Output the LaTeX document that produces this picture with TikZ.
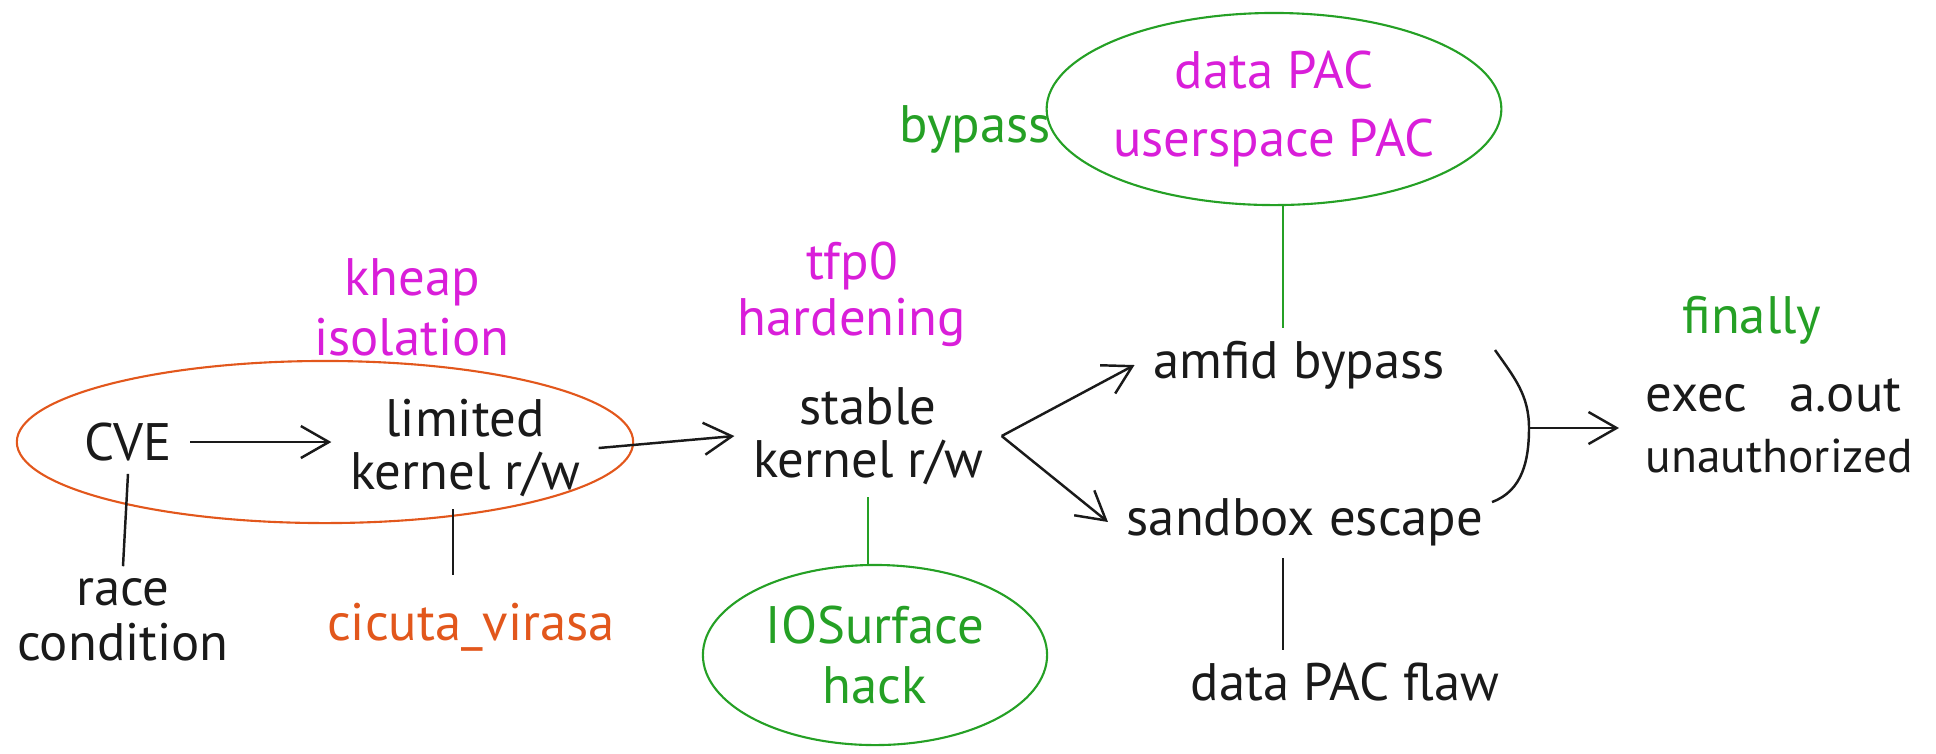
\documentclass[tikz,border=0pt]{standalone}
\usepackage{fontspec}
\setmainfont{PT Sans}
\usetikzlibrary{arrows.meta,shapes.geometric}
\definecolor{pen}{HTML}{1A1A1A}
\definecolor{mag}{HTML}{D91ED9}
\definecolor{grn}{HTML}{25A025}
\definecolor{org}{HTML}{E2571C}
\tikzset{
  lbl/.style={text=pen, inner xsep=0.18cm, inner ysep=0.12cm, align=center, font=\fontsize{15pt}{15pt}\selectfont},
  maglbl/.style={text=mag, inner sep=0.05cm, align=center},
  grnlbl/.style={text=grn, inner sep=0.05cm, align=center},
  blob/.style={ellipse, inner sep=0pt, line width=0.6pt, align=center},
  link/.style={draw=pen, line width=0.7pt},
  glink/.style={draw=grn, line width=0.7pt},
  arr/.style={draw=pen, line width=0.7pt, -{Straight Barb[length=0.28cm,width=0.32cm,line width=0.7pt]}},
}
\begin{document}
\begin{tikzpicture}[x=0.01cm,y=-0.01cm]
\useasboundingbox (0,0) rectangle (1936,753);
% group ellipse
\node[blob, draw=org, minimum width=6.16cm, minimum height=1.62cm] (grp) at (325,442) {};
% main nodes
\node[lbl] (cve) at (128,442) {CVE};
\node[lbl] (limited) at (465,448) {limited\\kernel r/w};
\node[lbl] (stable) at (868,436) {stable\\kernel r/w};
\node[lbl] (amfid) at (1299,365) {amfid bypass};
\node[lbl] (sandbox) at (1305,522) {sandbox escape};
\node[lbl, font=\fontsize{13.5pt}{17.5pt}\selectfont, align=left, anchor=west] (final) at (1627,426) {{\fontsize{15pt}{15pt}\selectfont exec\hspace{0.8em}a.out}\\unauthorized};
% annotations
\node[lbl, font=\fontsize{15pt}{15.5pt}\selectfont] (race) at (123,620) {race\\condition};
\node[lbl, text=org] (cicuta) at (471,627) {cicuta\_virasa};
\node[lbl] (flaw) at (1345,682) {data PAC flaw};
\node[maglbl, font=\fontsize{15pt}{17pt}\selectfont] (kheap) at (412,307) {kheap\\isolation};
\node[maglbl, font=\fontsize{15pt}{16pt}\selectfont] (tfp) at (852,294) {tfp0\\hardening};
\node[grnlbl, font=\fontsize{15pt}{15pt}\selectfont] (bypass) at (975,129) {bypass};
\node[grnlbl, font=\fontsize{15pt}{15pt}\selectfont] (finally) at (1752,320) {finally};
\node[blob, draw=grn, text=mag, minimum width=3.92cm, minimum height=1.92cm, font=\fontsize{15pt}{19.5pt}\selectfont] (dpac) at (1274,109) {data PAC\\userspace PAC};
\node[blob, draw=grn, text=grn, minimum width=3.44cm, minimum height=1.80cm, font=\fontsize{15pt}{17pt}\selectfont] (ios) at (875,655) {IOSurface\\hack};
% bracket
\coordinate (brtop) at (1495,350);
\coordinate (brmid) at (1529,428);
\coordinate (brbot) at (1492,502);
% connectors
\draw[arr] (cve) -- (limited.west |- cve);
\draw[arr] (limited.east) -- (stable.west);
\draw[arr] (stable.east) -- (amfid.west);
\draw[arr] (stable.east) -- (sandbox.west);
\draw[link] (cve.south) -- (race.north);
\draw[link, shorten >=0.15cm] ([xshift=-0.12cm]limited.south) -- ([xshift=-0.12cm]limited.south |- cicuta.north);
\draw[glink] (stable.south) -- (stable.south |- ios.north);
\draw[glink] ([xshift=0.09cm]dpac.south) -- ([xshift=0.09cm]dpac.south |- amfid.north);
\draw[link] ([xshift=-0.22cm]sandbox.south) -- ([xshift=-0.22cm]sandbox.south |- flaw.north);
\draw[link] (brtop) to[out=-55,in=90] (brmid) to[out=-90,in=20] (brbot);
\draw[arr, shorten >=0.08cm] (brmid) -- (final.west |- brmid);
\end{tikzpicture}
\end{document}
